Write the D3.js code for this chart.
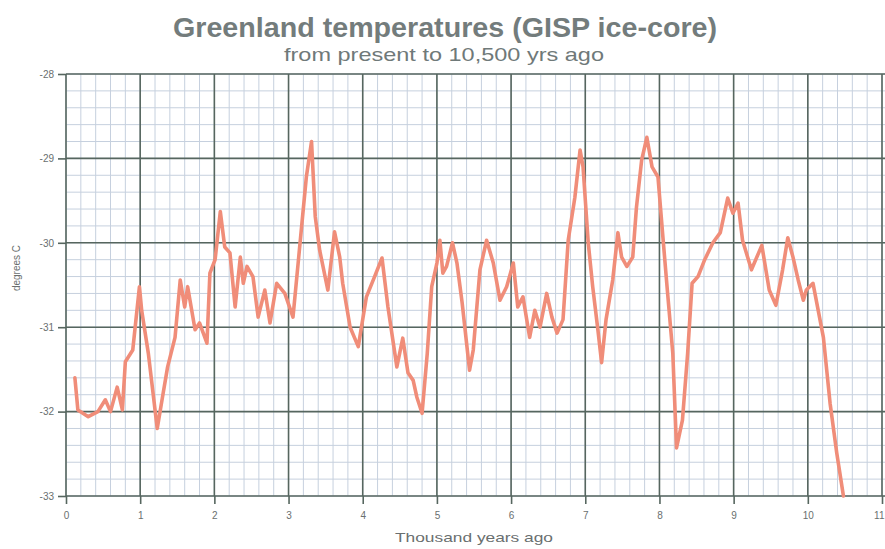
<!DOCTYPE html>
<html>
<head>
<meta charset="utf-8">
<script src="https://cdn.jsdelivr.net/npm/d3@7"></script>
<style>
  body { margin: 0; background: #fff; }
  svg { display: block; font-family: "Liberation Sans", Arial, sans-serif; }
</style>
</head>
<body>
<svg id="chart"></svg>
<script>
// thousand years ago
const years = [
  0.12, 0.16, 0.30, 0.43, 0.53, 0.60, 0.69, 0.76, 0.80, 0.90,
  0.99, 1.02, 1.11, 1.23, 1.31, 1.37, 1.47, 1.54, 1.60, 1.64,
  1.74, 1.80, 1.90, 1.94, 2.01, 2.08, 2.14, 2.21, 2.28, 2.35,
  2.39, 2.44, 2.52, 2.59, 2.68, 2.75, 2.84, 2.95, 3.06, 3.15,
  3.24, 3.31, 3.36, 3.42, 3.53, 3.62, 3.69, 3.73, 3.83, 3.94,
  4.05, 4.16, 4.26, 4.34, 4.46, 4.54, 4.61, 4.68, 4.73, 4.80,
  4.87, 4.93, 5.00, 5.04, 5.08, 5.13, 5.21, 5.27, 5.34, 5.44,
  5.49, 5.58, 5.67, 5.76, 5.85, 5.94, 6.03, 6.09, 6.16, 6.25,
  6.32, 6.39, 6.48, 6.55, 6.62, 6.70, 6.77, 6.86, 6.93, 6.97,
  7.04, 7.10, 7.17, 7.22, 7.28, 7.37, 7.44, 7.49, 7.56, 7.64,
  7.69, 7.76, 7.83, 7.90, 7.98, 8.05, 8.11, 8.18, 8.23, 8.31,
  8.38, 8.44, 8.52, 8.61, 8.72, 8.82, 8.92, 8.99, 9.06, 9.12,
  9.24, 9.38, 9.48, 9.57, 9.66, 9.73, 9.80, 9.87, 9.94, 9.98,
  10.07, 10.21, 10.30, 10.39, 10.48
];

// degrees C
const temps = [
  -31.60, -31.98, -32.06, -32.00, -31.86, -32.00, -31.71, -31.98, -31.41, -31.27,
  -30.52, -30.80, -31.31, -32.20, -31.78, -31.47, -31.12, -30.44, -30.76, -30.52,
  -31.03, -30.95, -31.19, -30.36, -30.20, -29.63, -30.05, -30.12, -30.76, -30.17,
  -30.48, -30.28, -30.40, -30.88, -30.56, -30.95, -30.48, -30.60, -30.88, -30.05,
  -29.22, -28.80, -29.69, -30.09, -30.56, -29.87, -30.17, -30.48, -31.00, -31.23,
  -30.64, -30.40, -30.18, -30.76, -31.47, -31.13, -31.54, -31.63, -31.83, -32.02,
  -31.31, -30.52, -30.24, -29.97, -30.36, -30.28, -30.00, -30.24, -30.71, -31.51,
  -31.27, -30.32, -29.97, -30.24, -30.68, -30.52, -30.24, -30.76, -30.64, -31.12,
  -30.80, -31.00, -30.60, -30.88, -31.07, -30.91, -29.97, -29.46, -28.90, -29.10,
  -30.00, -30.52, -31.03, -31.42, -30.91, -30.44, -29.88, -30.17, -30.28, -30.17,
  -29.58, -29.02, -28.75, -29.10, -29.22, -29.97, -30.60, -31.31, -32.43, -32.10,
  -31.31, -30.48, -30.40, -30.20, -30.00, -29.88, -29.47, -29.65, -29.53, -29.97,
  -30.32, -30.03, -30.56, -30.74, -30.32, -29.94, -30.17, -30.44, -30.68, -30.56,
  -30.48, -31.12, -31.90, -32.49, -33.00
];

const xTicks = [0, 1, 2, 3, 4, 5, 6, 7, 8, 9, 10, 11];
const yTicks = [-33, -32, -31, -30, -29, -28];

const width = 885;
const height = 549;

const xScale = d3.scaleLinear().domain([0, 11]).range([66, 882]);
const yScale = d3.scaleLinear().domain([-33, -28]).range([496, 74]);

const svg = d3.select("#chart")
  .attr("width", width)
  .attr("height", height);

// graph paper: minor lines every 0.2
const minorX = d3.range(0, 11.001, 0.2);
const minorY = d3.range(-33, -27.999, 0.2);

svg.append("g")
  .selectAll("line")
  .data(minorX)
  .join("line")
  .attr("x1", d => xScale(d)).attr("x2", d => xScale(d))
  .attr("y1", yScale(-28)).attr("y2", yScale(-33))
  .attr("stroke", "#c6d0de")
  .attr("stroke-width", 1);

svg.append("g")
  .selectAll("line")
  .data(minorY)
  .join("line")
  .attr("x1", xScale(0)).attr("x2", width)
  .attr("y1", d => yScale(d)).attr("y2", d => yScale(d))
  .attr("stroke", "#c6d0de")
  .attr("stroke-width", 1);

// major lines
svg.append("g")
  .selectAll("line")
  .data(xTicks)
  .join("line")
  .attr("x1", d => xScale(d)).attr("x2", d => xScale(d))
  .attr("y1", yScale(-28)).attr("y2", yScale(-33))
  .attr("stroke", "#56665f")
  .attr("stroke-width", 1.6);

svg.append("g")
  .selectAll("line")
  .data(yTicks)
  .join("line")
  .attr("x1", xScale(0)).attr("x2", width)
  .attr("y1", d => yScale(d)).attr("y2", d => yScale(d))
  .attr("stroke", "#56665f")
  .attr("stroke-width", 1.6);

// axes (plain hyphen for the minus sign, like the scan)
const yAxis = d3.axisLeft(yScale)
  .tickValues(yTicks)
  .tickSize(8)
  .tickPadding(4)
  .tickFormat(d => String(d));
const xAxis = d3.axisBottom(xScale)
  .tickValues(xTicks)
  .tickSize(8)
  .tickPadding(8)
  .tickFormat(d => String(d));

svg.append("g")
  .attr("id", "y-axis")
  .attr("transform", "translate(" + xScale(0) + ",0)")
  .call(yAxis)
  .call(g => g.select(".domain").remove())
  .call(g => g.selectAll("line").attr("stroke", "#56665f").attr("stroke-width", 1.6))
  .call(g => g.selectAll("text")
    .attr("fill", "#6a6f6f")
    .style("font-size", "10px")
    .style("font-family", "'Liberation Sans', Arial, sans-serif"));

svg.append("g")
  .attr("id", "x-axis")
  .attr("transform", "translate(0," + yScale(-33) + ")")
  .call(xAxis)
  .call(g => g.select(".domain").remove())
  .call(g => g.selectAll("line").attr("stroke", "#56665f").attr("stroke-width", 1.6))
  .call(g => g.selectAll("text")
    .attr("fill", "#6a6f6f")
    .style("font-size", "10px")
    .style("font-family", "'Liberation Sans', Arial, sans-serif"))
  // last label sits at the right edge, keep it inside
  .call(g => g.selectAll(".tick").filter(d => d === 11).select("text")
    .attr("text-anchor", "end")
    .attr("dx", 2));

// temperature line
const line = d3.line()
  .x((d, i) => xScale(years[i]))
  .y(d => yScale(d))
  .curve(d3.curveLinear);

svg.append("path")
  .datum(temps)
  .attr("d", line)
  .attr("fill", "none")
  .attr("stroke", "#f08d79")
  .attr("stroke-width", 3.6)
  .attr("stroke-linejoin", "round")
  .attr("stroke-linecap", "round");

// titles
svg.append("text")
  .text("Greenland temperatures (GISP ice-core)")
  .attr("x", 445)
  .attr("y", 37)
  .attr("text-anchor", "middle")
  .attr("textLength", 544)
  .attr("lengthAdjust", "spacingAndGlyphs")
  .attr("fill", "#737c7c")
  .style("font-size", "28px")
  .style("font-weight", "bold");

svg.append("text")
  .text("from present to 10,500 yrs ago")
  .attr("x", 444)
  .attr("y", 61)
  .attr("text-anchor", "middle")
  .attr("textLength", 320)
  .attr("lengthAdjust", "spacingAndGlyphs")
  .attr("fill", "#6f7979")
  .style("font-size", "19px");

svg.append("text")
  .text("Thousand years ago")
  .attr("x", 474)
  .attr("y", 542)
  .attr("text-anchor", "middle")
  .attr("textLength", 158)
  .attr("lengthAdjust", "spacingAndGlyphs")
  .attr("fill", "#6a6f6f")
  .style("font-size", "13px");

svg.append("text")
  .text("degrees C")
  .attr("transform", "translate(20,268) rotate(-90)")
  .attr("text-anchor", "middle")
  .attr("fill", "#6a6f6f")
  .style("font-size", "10px");
</script>
</body>
</html>
